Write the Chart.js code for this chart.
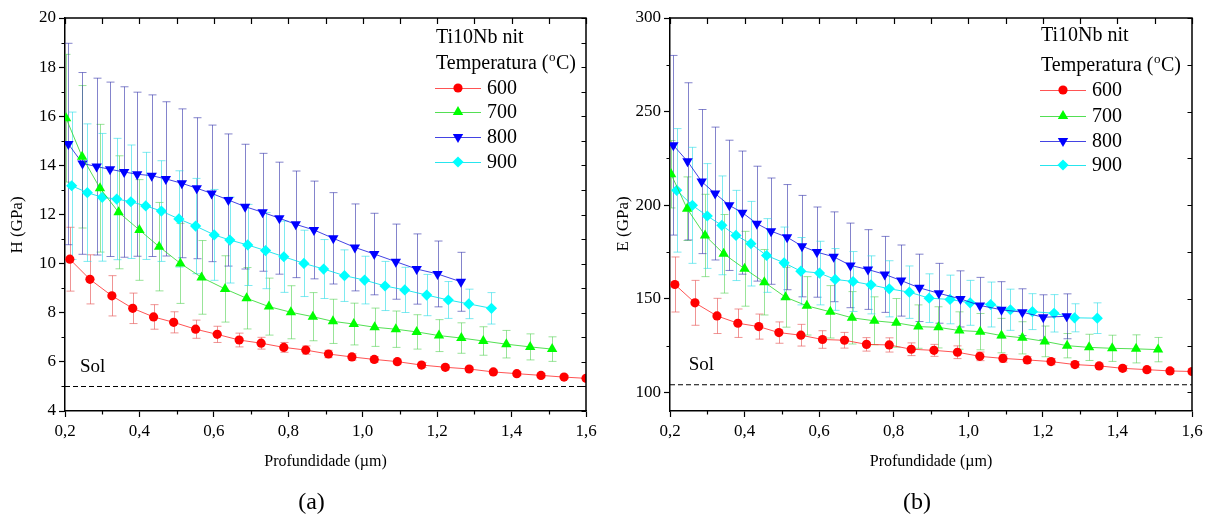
<!DOCTYPE html>
<html>
<head>
<meta charset="utf-8">
<title>Ti10Nb nit - dureza e módulo</title>
<script src="https://cdn.jsdelivr.net/npm/chart.js@4.4.1/dist/chart.umd.min.js"></script>
<style>
  body { margin: 0; background: #fff; }
  .panel { position: absolute; top: 0; width: 605px; height: 522px; }
</style>
</head>
<body>
<div class="panel" style="left:0"><canvas id="chartH" width="605" height="522"></canvas></div>
<div class="panel" style="left:605px"><canvas id="chartE" width="605" height="522"></canvas></div>
<script>
// temperaturas de nitretação
var temperatures = ["600", "700", "800", "900"];

// profundidade (um) de cada série
var depth600 = [0.213, 0.267, 0.326, 0.382, 0.438, 0.492, 0.551, 0.609, 0.668, 0.727, 0.788, 0.847, 0.908, 0.971, 1.031, 1.093, 1.158, 1.222, 1.286, 1.351, 1.414, 1.479, 1.541, 1.600];
var depth700 = [0.203, 0.246, 0.294, 0.344, 0.400, 0.453, 0.510, 0.567, 0.630, 0.688, 0.748, 0.807, 0.866, 0.920, 0.976, 1.032, 1.089, 1.145, 1.205, 1.265, 1.324, 1.386, 1.450, 1.509];
var depth800 = [0.209, 0.247, 0.285, 0.321, 0.359, 0.394, 0.433, 0.471, 0.514, 0.554, 0.594, 0.639, 0.684, 0.731, 0.776, 0.820, 0.869, 0.921, 0.979, 1.031, 1.089, 1.145, 1.201, 1.264];
var depth900 = [0.218, 0.260, 0.300, 0.339, 0.377, 0.417, 0.459, 0.506, 0.551, 0.601, 0.643, 0.691, 0.739, 0.788, 0.842, 0.895, 0.951, 1.005, 1.060, 1.113, 1.172, 1.230, 1.285, 1.346];

// dureza H (GPa) e desvio
var hardness600 = [10.18, 9.36, 8.69, 8.18, 7.83, 7.61, 7.33, 7.12, 6.89, 6.76, 6.59, 6.48, 6.32, 6.20, 6.10, 6.01, 5.87, 5.78, 5.71, 5.59, 5.52, 5.45, 5.38, 5.33];
var hardnessErr600 = [1.30, 1.00, 0.82, 0.62, 0.50, 0.43, 0.37, 0.33, 0.28, 0.24, 0.20, 0.17, 0.15, 0.13, 0.12, 0.10, 0.10, 0.10, 0.08, 0.08, 0.08, 0.07, 0.07, 0.07];
var hardness700 = [15.92, 14.35, 13.07, 12.09, 11.37, 10.69, 10.01, 9.44, 8.97, 8.59, 8.25, 8.02, 7.84, 7.65, 7.54, 7.41, 7.33, 7.22, 7.07, 6.97, 6.85, 6.72, 6.61, 6.52];
var hardnessErr700 = [2.60, 2.90, 2.60, 2.30, 2.05, 1.80, 1.63, 1.50, 1.35, 1.25, 1.16, 1.08, 0.98, 0.90, 0.85, 0.78, 0.74, 0.70, 0.65, 0.62, 0.58, 0.56, 0.53, 0.50];
var hardness800 = [14.87, 14.08, 13.95, 13.84, 13.73, 13.64, 13.58, 13.45, 13.27, 13.07, 12.86, 12.59, 12.32, 12.09, 11.85, 11.60, 11.37, 11.03, 10.66, 10.39, 10.08, 9.78, 9.58, 9.26];
var hardnessErr800 = [4.10, 3.70, 3.60, 3.55, 3.47, 3.34, 3.29, 3.14, 3.03, 2.87, 2.78, 2.69, 2.54, 2.40, 2.28, 2.17, 1.99, 1.86, 1.77, 1.66, 1.53, 1.43, 1.34, 1.20];
var hardness900 = [13.17, 12.89, 12.70, 12.63, 12.52, 12.35, 12.14, 11.82, 11.53, 11.17, 10.96, 10.76, 10.53, 10.28, 10.01, 9.78, 9.51, 9.33, 9.09, 8.93, 8.72, 8.52, 8.36, 8.18];
var hardnessErr900 = [3.00, 2.80, 2.60, 2.47, 2.31, 2.18, 2.05, 1.96, 1.94, 1.85, 1.75, 1.65, 1.55, 1.45, 1.35, 1.20, 1.05, 0.97, 1.00, 0.92, 0.84, 0.75, 0.60, 0.64];

// módulo de elasticidade E (GPa) e desvio
var modulus600 = [157.6, 147.8, 140.8, 136.9, 135.1, 131.9, 130.5, 128.2, 127.8, 125.6, 125.3, 123.0, 122.4, 121.4, 119.2, 118.1, 117.3, 116.4, 114.8, 114.1, 112.8, 112.1, 111.4, 111.1];
var modulusErr600 = [14.7, 12.0, 9.4, 7.6, 6.7, 5.7, 5.8, 4.7, 4.2, 3.6, 3.8, 3.4, 3.2, 3.4, 2.3, 2.0, 1.8, 1.7, 1.6, 1.5, 1.4, 1.4, 1.3, 1.3];
var modulus700 = [216.5, 198.1, 183.8, 174.0, 166.0, 158.8, 150.8, 146.2, 143.0, 139.8, 138.2, 137.1, 135.1, 134.7, 133.0, 132.4, 130.3, 129.1, 127.2, 124.9, 124.0, 123.5, 123.2, 122.8];
var modulusErr700 = [18.0, 17.0, 22.0, 21.0, 20.0, 17.5, 16.0, 15.6, 14.0, 14.0, 12.8, 13.0, 11.6, 11.0, 10.0, 9.7, 9.2, 8.6, 8.2, 6.5, 7.0, 7.0, 7.5, 6.5];
var modulus800 = [232.0, 223.4, 212.6, 206.2, 199.9, 196.0, 190.1, 186.1, 182.9, 178.1, 174.9, 172.4, 167.8, 165.6, 163.0, 159.7, 155.8, 152.9, 149.9, 146.4, 144.1, 142.8, 140.1, 140.6];
var modulusErr800 = [48.0, 42.0, 38.5, 35.5, 34.8, 32.9, 30.7, 28.4, 28.1, 27.1, 24.1, 24.0, 22.6, 21.3, 20.3, 19.0, 18.0, 16.0, 15.0, 15.0, 15.0, 12.5, 12.0, 12.0];
var modulus900 = [207.9, 199.9, 194.2, 189.2, 183.8, 179.4, 173.1, 169.2, 164.7, 163.7, 160.3, 159.2, 157.4, 155.3, 153.5, 150.3, 149.6, 147.8, 146.9, 144.1, 143.1, 142.2, 139.8, 139.6];
var modulusErr900 = [33.0, 31.0, 28.0, 26.4, 24.1, 22.6, 19.7, 19.1, 18.0, 17.0, 16.5, 16.0, 15.5, 15.0, 14.0, 13.0, 13.0, 12.0, 12.0, 11.0, 9.6, 10.0, 7.5, 8.2];

// valores do substrato solubilizado
var solHardness = 5.0;
var solModulus = 104;

// marcas dos eixos
var depthTicks = [0.2, 0.4, 0.6, 0.8, 1.0, 1.2, 1.4, 1.6];
var hardnessTicks = [4, 6, 8, 10, 12, 14, 16, 18, 20];
var modulusTicks = [100, 150, 200, 250, 300];

var SERIF = '"Liberation Serif", "Times New Roman", serif';

var styles = [
    { point: "#ff0000", line: "rgba(255,40,40,0.8)", err: "rgba(232,90,90,0.65)", pointStyle: "circle", radius: 4.6, rotation: 0 },
    { point: "#00ff00", line: "rgba(40,215,40,0.8)", err: "rgba(70,205,70,0.55)", pointStyle: "triangle", radius: 6, rotation: 0 },
    { point: "#0000ff", line: "rgba(20,20,220,0.8)", err: "rgba(50,50,170,0.6)", pointStyle: "triangle", radius: 6, rotation: 180 },
    { point: "#00ffff", line: "rgba(0,225,235,0.85)", err: "rgba(40,220,230,0.6)", pointStyle: "rectRot", radius: 5.6, rotation: 0 }
];

function toPoints(xs, ys) {
    return xs.map(function (x, i) { return { x: x, y: ys[i] }; });
}

function buildDatasets(values, errors, solValue) {
    var depths = [depth600, depth700, depth800, depth900];
    var sets = [{
        label: "Sol",
        data: [{ x: 0.2, y: solValue }, { x: 1.6, y: solValue }],
        showLine: true,
        borderColor: "#000",
        borderWidth: 1.1,
        borderDash: [5, 3],
        pointRadius: 0
    }];
    for (var i = 0; i < temperatures.length; i++) {
        var s = styles[i];
        sets.push({
            label: temperatures[i],
            data: toPoints(depths[i], values[i]),
            errorBars: errors[i],
            errorColor: s.err,
            showLine: true,
            tension: 0,
            clip: 0,
            borderColor: s.line,
            borderWidth: 1,
            pointStyle: s.pointStyle,
            pointRotation: s.rotation,
            pointRadius: s.radius,
            pointBackgroundColor: s.point,
            pointBorderWidth: 0,
            legendPoint: s.point
        });
    }
    return sets;
}

function fmt(v) {
    return (Math.round(v * 10) / 10).toFixed(1).replace(".", ",");
}

// barras de erro verticais, desenhadas antes das séries
var errorBarsPlugin = {
    id: "errorBars",
    beforeDatasetsDraw: function (chart) {
        var ctx = chart.ctx, a = chart.chartArea;
        var xs = chart.scales.x, ys = chart.scales.y;
        ctx.save();
        ctx.beginPath();
        ctx.rect(a.left, a.top, a.right - a.left, a.bottom - a.top);
        ctx.clip();
        ctx.lineWidth = 1;
        chart.data.datasets.forEach(function (ds) {
            if (!ds.errorBars) return;
            ctx.strokeStyle = ds.errorColor;
            ctx.beginPath();
            ds.data.forEach(function (p, i) {
                var e = ds.errorBars[i];
                var px = Math.round(xs.getPixelForValue(p.x)) + 0.5;
                var top = ys.getPixelForValue(p.y + e);
                var bot = ys.getPixelForValue(p.y - e);
                ctx.moveTo(px, top); ctx.lineTo(px, bot);
                ctx.moveTo(px - 4, top); ctx.lineTo(px + 4, top);
                ctx.moveTo(px - 4, bot); ctx.lineTo(px + 4, bot);
            });
            ctx.stroke();
        });
        ctx.restore();
    }
};

// moldura, marcas secundárias, legenda e rótulos
var decorPlugin = {
    id: "decor",
    afterDraw: function (chart, args, opts) {
        var ctx = chart.ctx, a = chart.chartArea;
        var xs = chart.scales.x, ys = chart.scales.y;
        ctx.save();
        ctx.strokeStyle = "#000";
        ctx.lineWidth = 1.5;
        ctx.beginPath();
        ctx.moveTo(a.left, a.top);
        ctx.lineTo(a.right, a.top);
        ctx.lineTo(a.right, a.bottom);
        ctx.stroke();

        ctx.lineWidth = 1.2;
        ctx.beginPath();
        var n = Math.round((xs.max - xs.min) / 0.1);
        for (var i = 0; i <= n; i++) {
            var v = xs.min + i * 0.1;
            var px = Math.round(xs.getPixelForValue(v)) + 0.5;
            ctx.moveTo(px, a.top); ctx.lineTo(px, a.top + 6);
            if (i % 2 === 1) { ctx.moveTo(px, a.bottom); ctx.lineTo(px, a.bottom + 3.5); }
        }
        var step = opts.yMinor;
        for (var y = Math.ceil(ys.min / step) * step; y <= ys.max + 1e-9; y += step) {
            var py = Math.round(ys.getPixelForValue(y)) + 0.5;
            ctx.moveTo(a.right, py); ctx.lineTo(a.right - 4.5, py);
            if (opts.yTicks.indexOf(y) < 0) { ctx.moveTo(a.left, py); ctx.lineTo(a.left - 3.5, py); }
        }
        ctx.stroke();

        ctx.fillStyle = "#000";
        ctx.textBaseline = "middle";

        // título do eixo y
        ctx.save();
        ctx.translate(opts.yTitle.x, opts.yTitle.y);
        ctx.rotate(-Math.PI / 2);
        ctx.textAlign = "center";
        ctx.font = "17px " + SERIF;
        ctx.fillText(opts.yTitle.text, 0, 0);
        ctx.restore();

        // título do eixo x e letra do painel
        ctx.textAlign = "center";
        ctx.font = "16px " + SERIF;
        var cx = (a.left + a.right) / 2;
        ctx.fillText("Profundidade (\u00b5m)", cx, 462);
        ctx.font = "24px " + SERIF;
        ctx.fillText(opts.panel, cx - 14, 503);

        // rótulo da linha do substrato
        ctx.textAlign = "left";
        ctx.font = "19px " + SERIF;
        ctx.fillText("Sol", xs.getPixelForValue(opts.solLabel.x), ys.getPixelForValue(opts.solLabel.y));

        // legenda
        var L = opts.legend;
        ctx.font = "20px " + SERIF;
        ctx.fillText("Ti10Nb nit", L.x, L.rows[0]);
        var tx = L.x, t1 = "Temperatura (";
        ctx.fillText(t1, tx, L.rows[1]);
        tx += ctx.measureText(t1).width;
        ctx.font = "13px " + SERIF;
        ctx.fillText("o", tx + 0.5, L.rows[1] - 6);
        tx += ctx.measureText("o").width + 1;
        ctx.font = "20px " + SERIF;
        ctx.fillText("C)", tx, L.rows[1]);

        var row = 2;
        chart.data.datasets.forEach(function (ds) {
            if (!ds.errorBars) return;
            var ry = L.rows[row++];
            ctx.strokeStyle = ds.borderColor;
            ctx.lineWidth = 1;
            ctx.beginPath();
            ctx.moveTo(L.x - 1, ry + 0.5); ctx.lineTo(L.x + 45, ry + 0.5);
            ctx.stroke();
            ctx.fillStyle = ds.legendPoint;
            Chart.helpers.drawPoint(ctx, {
                pointStyle: ds.pointStyle, radius: ds.pointRadius,
                rotation: ds.pointRotation, borderWidth: 0
            }, L.x + 22, ry);
            ctx.fillStyle = "#000";
            ctx.font = "20px " + SERIF;
            ctx.fillText(ds.label, L.x + 51, ry + 1);
        });
        ctx.restore();
    }
};

function axisOptions(min, max, ticks, fitKey, fitSize, formatter) {
    return {
        type: "linear",
        min: min,
        max: max,
        afterBuildTicks: function (scale) {
            scale.ticks = ticks.map(function (v) { return { value: v }; });
        },
        afterFit: function (scale) { scale[fitKey] = fitSize; },
        ticks: {
            autoSkip: false,
            maxRotation: 0,
            padding: fitKey === "width" ? 3 : 4,
            color: "#000",
            font: { family: SERIF, size: 17 },
            callback: formatter
        },
        grid: {
            drawOnChartArea: false,
            drawTicks: true,
            tickLength: 6,
            tickColor: "#000",
            tickWidth: 1.2
        },
        border: { display: true, color: "#000", width: 1.5 }
    };
}

function buildChart(canvasID, datasets, yMin, yMax, yTicks, extra) {
    var canvas = document.getElementById(canvasID);
    return new Chart(canvas, {
        type: "scatter",
        data: { datasets: datasets },
        options: {
            responsive: false,
            animation: false,
            devicePixelRatio: 1,
            layout: { padding: { left: 0, right: extra.right, top: 18, bottom: 0 } },
            scales: {
                x: axisOptions(0.2, 1.6, depthTicks, "height", 111, function (v) { return fmt(v); }),
                y: axisOptions(yMin, yMax, yTicks, "width", 65, function (v) { return String(v); })
            },
            plugins: {
                legend: { display: false },
                tooltip: { enabled: false },
                decor: extra.decor
            }
        },
        plugins: [errorBarsPlugin, decorPlugin]
    });
}

var hardnessChart = buildChart("chartH",
    buildDatasets([hardness600, hardness700, hardness800, hardness900],
                  [hardnessErr600, hardnessErr700, hardnessErr800, hardnessErr900], solHardness),
    4, 20, hardnessTicks,
    {
        right: 19,
        decor: {
            yMinor: 1,
            yTicks: hardnessTicks,
            yTitle: { text: "H (GPa)", x: 18, y: 225 },
            panel: "(a)",
            solLabel: { x: 0.24, y: 5.8 },
            legend: { x: 436, rows: [38, 64, 88, 112, 137, 162] }
        }
    });

var modulusChart = buildChart("chartE",
    buildDatasets([modulus600, modulus700, modulus800, modulus900],
                  [modulusErr600, modulusErr700, modulusErr800, modulusErr900], solModulus),
    90, 300, modulusTicks,
    {
        right: 18,
        decor: {
            yMinor: 25,
            yTicks: modulusTicks,
            yTitle: { text: "E (GPa)", x: 19, y: 224 },
            panel: "(b)",
            solLabel: { x: 0.25, y: 114.8 },
            legend: { x: 436, rows: [36, 66, 90, 116, 141, 165] }
        }
    });
</script>
</body>
</html>
